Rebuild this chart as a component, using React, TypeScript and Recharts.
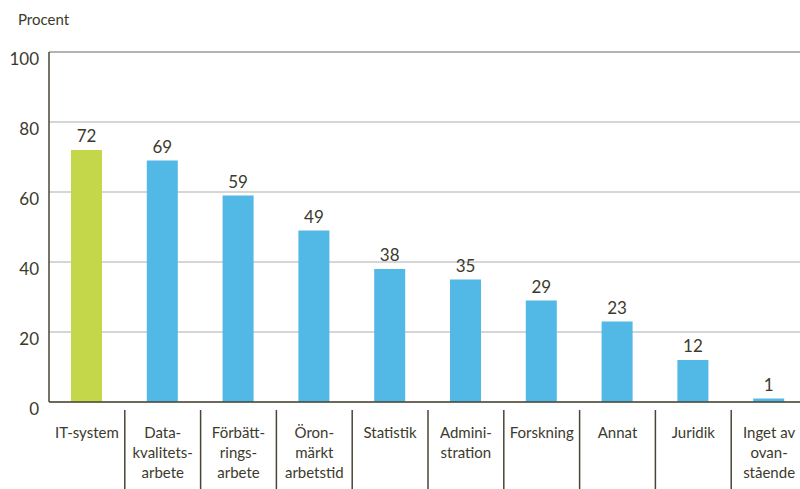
import React from 'react';
import {
  BarChart,
  Bar,
  XAxis,
  YAxis,
  CartesianGrid,
  ReferenceLine,
  LabelList,
  Cell,
} from 'recharts';

// Andel (procent) per område
const categories = [
  'IT-system',
  'Datakvalitetsarbete',
  'Förbättringsarbete',
  'Öronmärkt arbetstid',
  'Statistik',
  'Administration',
  'Forskning',
  'Annat',
  'Juridik',
  'Inget av ovanstående',
];
const tickLines = [
  ['IT-system'],
  ['Data-', 'kvalitets-', 'arbete'],
  ['Förbätt-', 'rings-', 'arbete'],
  ['Öron-', 'märkt', 'arbetstid'],
  ['Statistik'],
  ['Admini-', 'stration'],
  ['Forskning'],
  ['Annat'],
  ['Juridik'],
  ['Inget av', 'ovan-', 'stående'],
];
const values = [72, 69, 59, 49, 38, 35, 29, 23, 12, 1];
const yTicks = [0, 20, 40, 60, 80, 100];

const data = categories.map((name, i) => ({ name, value: values[i], idx: i }));

const TEXT = '#3c3a2c';
const AXIS = '#4a4535';
const BLUE = '#52b8e6';
const GREEN = '#c4d64a';
const FONT = 'Lato, "Open Sans", sans-serif';
const BAND = 75.8;

function CategoryTick(props: any) {
  const { x, y, payload, index } = props;
  const lines = tickLines[index] || [payload.value];
  return (
    <g>
      {index > 0 && <line x1={x - BAND / 2} x2={x - BAND / 2} y1={y} y2={y + 90} stroke={AXIS} strokeWidth={1.5} />}
      <text x={x} y={y + 28} textAnchor="middle" fill={TEXT} fontSize={15} fontFamily={FONT}>
        {lines.map((l: string, i: number) => (
          <tspan key={i} x={x} dy={i === 0 ? 0 : 20}>
            {l}
          </tspan>
        ))}
      </text>
    </g>
  );
}

function ValueTick(props: any) {
  const { x, y, payload } = props;
  return (
    <text x={x - 2} y={y + 13} textAnchor="end" fill={TEXT} fontSize={17} fontFamily={FONT}>
      {payload.value}
    </text>
  );
}

export default function App() {
  return (
    <div style={{ position: 'fixed', left: 0, top: 0, width: 800, height: 489, overflow: 'hidden', background: '#fff' }}>
      <div style={{ position: 'absolute', left: 18, top: 10, fontSize: 15, color: TEXT, fontFamily: FONT }}>Procent</div>
      <BarChart
        width={820}
        height={489}
        data={data}
        margin={{ top: 52, right: 13, left: 0, bottom: 0 }}
        barSize={31}
      >
        <CartesianGrid horizontal vertical={false} stroke="#c8c8c8" strokeWidth={1.5} />
        <ReferenceLine y={100} stroke="#a8a8a0" strokeWidth={1.5} />
        <XAxis
          dataKey="name"
          interval={0}
          height={87}
          axisLine={{ stroke: AXIS, strokeWidth: 1.5 }}
          tickLine={false}
          tick={<CategoryTick />}
        />
        <YAxis
          domain={[0, 100]}
          ticks={yTicks}
          width={49}
          axisLine={{ stroke: AXIS, strokeWidth: 1.5 }}
          tickLine={false}
          tick={<ValueTick />}
        />
        <Bar dataKey="value" isAnimationActive={false}>
          {data.map((d, i) => (
            <Cell key={i} fill={i === 0 ? GREEN : BLUE} />
          ))}
          <LabelList dataKey="value" position="top" offset={8} fill={TEXT} fontSize={17} fontFamily={FONT} />
        </Bar>
      </BarChart>
    </div>
  );
}
